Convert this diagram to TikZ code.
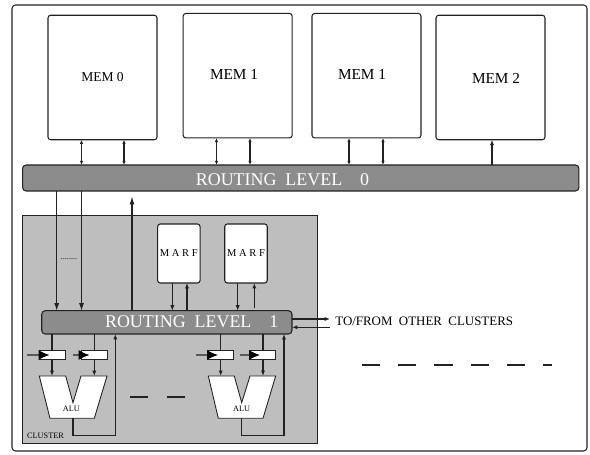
\documentclass[tikz,border=0pt]{standalone}
\usepackage{fontspec}
\setmainfont{Liberation Serif}
\usetikzlibrary{arrows.meta}
\definecolor{BusGrey}{HTML}{8C8C8C}
\definecolor{ClusterGrey}{HTML}{BEBEBE}
\definecolor{LineDark}{HTML}{222222}
\tikzset{
  MemBox/.style={draw=LineDark,fill=white,rounded corners=1.5pt,line width=.6pt,minimum width=2.18cm,minimum height=2.49cm,inner sep=0pt,outer sep=0pt},
  MarfBox/.style={draw=LineDark,fill=white,rounded corners=1.5pt,line width=.6pt,minimum width=.85cm,minimum height=1.18cm,inner sep=0pt,outer sep=0pt,font=\fontsize{6}{7}\selectfont},
  RouteBar/.style={draw=LineDark,fill=BusGrey,rounded corners=2pt,line width=.6pt,inner sep=0pt,outer sep=0pt},
  BarText/.style={text=white,inner sep=0pt,font=\fontsize{10.2}{12}\selectfont},
  RegBox/.style={draw=LineDark,fill=white,line width=.6pt,minimum width=.515cm,minimum height=.17cm,inner sep=0pt,outer sep=0pt},
  TinyText/.style={inner sep=0pt,font=\fontsize{4.7}{6}\selectfont},
  AluShape/.style={draw=LineDark,fill=white,line width=.5pt,line join=miter},
  Link/.style={line width=.6pt,LineDark,-{Latex[length=.11cm,width=.085cm]}},
  Both/.style={line width=.6pt,LineDark,{Latex[length=.085cm,width=.07cm]}-{Latex[length=.085cm,width=.07cm]}},
  Plain/.style={line width=.65pt,LineDark},
  RegIn/.style={line width=.7pt,black!65,-{Latex[length=.22cm,width=.2cm,black]}},
}
\begin{document}
\begin{tikzpicture}[x=.02cm,y=-.02cm]
\useasboundingbox (0,0) rectangle (590,455);
\draw[LineDark,line width=.6pt,rounded corners=2pt] (12,5) rectangle (587,451);
% memories and upper bus
\node[MemBox,font=\fontsize{7.7}{9}\selectfont] (Mem0) at (102.5,77.5) {MEM 0};
\node[MemBox] (Mem1) at (237.7,75.7) {};
\node[MemBox] (Mem2) at (366.5,75.7) {};
\node[MemBox] (Mem3) at (490.5,77.5) {};
\node[font=\fontsize{8.7}{10}\selectfont,inner sep=0pt] (Mem1Text) at (234,74) {MEM 1};
\node[font=\fontsize{8.7}{10}\selectfont,inner sep=0pt] (Mem2Text) at (362,74) {MEM 1};
\node[font=\fontsize{8.7}{10}\selectfont,inner sep=0pt] (Mem3Text) at (496,78) {MEM 2};
\node[RouteBar,minimum width=11.13cm,minimum height=.52cm] (Route0) at (300.75,178) {};
\node[BarText] (Route0Text) at (282.5,180) {ROUTING\ \ LEVEL\ \ \ \ 0};
\draw[Both] (81.5,0 |- Mem0.south)--(81.5,0 |- Route0.north);\draw[Both] (124,0 |- Mem0.south)--(124,0 |- Route0.north);
\draw[Both] (216.5,0 |- Mem1.south)--(216.5,0 |- Route0.north);\draw[Both] (250,0 |- Mem1.south)--(250,0 |- Route0.north);
\draw[Both] (349,0 |- Mem2.south)--(349,0 |- Route0.north);\draw[Both] (383,0 |- Mem2.south)--(383,0 |- Route0.north);
\draw[Link] (492,0 |- Route0.north)--(492,0 |- Mem3.south);
% cluster
\node[draw=LineDark,fill=ClusterGrey,line width=.6pt,minimum width=5.904cm,minimum height=4.546cm,inner sep=0pt,outer sep=0pt] (Cluster) at (170.1,329.4) {};
\node[RouteBar,minimum width=5.006cm,minimum height=.466cm] (Route1) at (166.85,322.35) {};
\node[BarText] (Route1Text) at (191.7,321.7) {ROUTING\ \ LEVEL\ \ \ \ 1};
\node[MarfBox] (Marf0) at (178.85,253.5) {M A R F};
\node[MarfBox] (Marf1) at (246,253.5) {M A R F};
\node[TinyText] (Dots) at (69,259) {........};
\node[TinyText] (ClusterText) at (45.5,436) {CLUSTER};
\coordinate (UpTip) at (132,196.5);
\draw[Link,-{Latex[length=.15cm,width=.1cm]}] (56.7,0 |- Route0.south)--(56.7,0 |- Route1.north);\draw[Link,-{Latex[length=.15cm,width=.1cm]}] (81.5,0 |- Route0.south)--(81.5,0 |- Route1.north);
\draw[Plain,-{Latex[length=.16cm,width=.1cm]}] (UpTip |- Route1.north)--(UpTip);
\draw[Link] (172.3,0 |- Marf0.south)--(172.3,0 |- Route1.north);\draw[Link] (187,0 |- Route1.north)--(187,0 |- Marf0.south);
\draw[Link] (237.7,0 |- Marf1.south)--(237.7,0 |- Route1.north);\draw[Link] (254.3,308)--(254.3,0 |- Marf1.south);
% registers
\node[RegBox] (RegA) at (52.3,355) {};\node[RegBox] (RegB) at (94.5,355) {};
\node[RegBox] (RegC) at (220.85,355) {};\node[RegBox] (RegD) at (262.85,355) {};
\coordinate (InA) at (26.7,355);\coordinate (InB) at (73.3,355);\coordinate (InC) at (195.7,355);\coordinate (InD) at (240,355);
\coordinate (TipA) at (49.5,355);\coordinate (TipB) at (89.5,355);\coordinate (TipC) at (218,355);\coordinate (TipD) at (260,355);
\draw[RegIn] (InA)--(TipA);\draw[RegIn] (InB)--(TipB);\draw[RegIn] (InC)--(TipC);\draw[RegIn] (InD)--(TipD);
% ALUs
\draw[AluShape] (39.3,376)--(65.7,376)--(73,402.7)--(81,376)--(107,376)--(94.3,418.3)--(50,418.3)--cycle;
\draw[AluShape] (208.3,376)--(234.3,376)--(241.7,402.7)--(250,376)--(275.7,376)--(263,418.3)--(218.3,418.3)--cycle;
\node[TinyText] (AluLeft) at (71.3,409) {ALU};
\node[TinyText] (AluRight) at (241.7,409) {ALU};
\coordinate (AluInA) at (52,376);\coordinate (AluInB) at (94.3,376);\coordinate (AluInC) at (220.7,376);\coordinate (AluInD) at (263,376);
\draw[Plain] (Route1.south -| AluInA)--(AluInA |- RegA.north);\draw[Link] (AluInA |- RegA.south)--(AluInA);
\draw[Plain] (Route1.south -| AluInB)--(AluInB |- RegB.north);\draw[Link] (AluInB |- RegB.south)--(AluInB);
\draw[Plain] (Route1.south -| AluInC)--(AluInC |- RegC.north);\draw[Link] (AluInC |- RegC.south)--(AluInC);
\draw[Plain] (Route1.south -| AluInD)--(AluInD |- RegD.north);\draw[Link] (AluInD |- RegD.south)--(AluInD);
\coordinate (OutA) at (73,418.3);\coordinate (OutB) at (241.7,418.3);
\draw[Link] (OutA)--(73,435.3)--(115.3,435.3)--(115.3,0 |- Route1.south);
\draw[Link] (OutB)--(241.7,435.3)--(284,435.3)--(284,0 |- Route1.south);
% other clusters
\coordinate (ToEnd) at (330,319);\coordinate (FromEnd) at (330,327.3);
\draw[Link] (Route1.east |- ToEnd)--(ToEnd);\draw[Link] (FromEnd)--(Route1.east |- FromEnd);
\node[inner sep=0pt,anchor=west,font=\fontsize{7.35}{9}\selectfont] (ToFrom) at (335,321.7) {TO/FROM\ \ OTHER\ \ CLUSTERS};
\draw[Plain] (130,397)--(148,397) (166.5,397)--(185,397);
\draw[Plain] (362.3,365)--(380,365) (398.3,365)--(416.3,365) (434.3,365)--(453,365) (471,365)--(489,365) (507,365)--(525,365) (543,365)--(552,365);
\end{tikzpicture}
\end{document}
